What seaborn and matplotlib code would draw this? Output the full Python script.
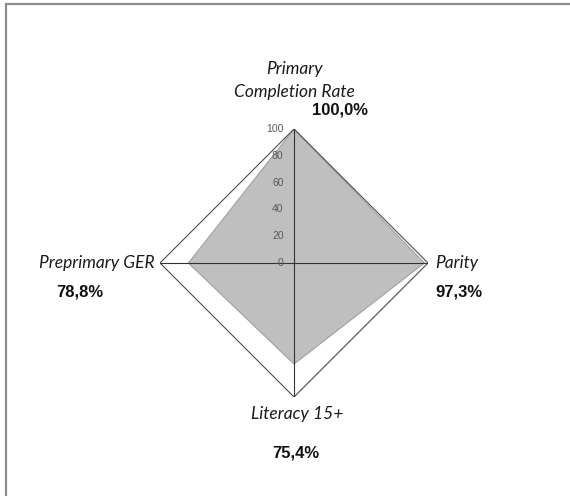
import numpy as np
import matplotlib
matplotlib.use("Agg")
import matplotlib.pyplot as plt
import seaborn as sns
from matplotlib.patches import Rectangle

# -----------------------------
# Data
# -----------------------------
indicators = ["Primary\nCompletion Rate", "Parity", "Literacy 15+", "Preprimary GER"]
values = [100.0, 97.3, 75.4, 78.8]
value_labels = ["100,0%", "97,3%", "75,4%", "78,8%"]
r_ticks = [0, 20, 40, 60, 80, 100]
r_max = 100

sns.set_theme(style="white")
plt.rcParams["font.family"] = ["Liberation Sans", "DejaVu Sans"]

fig = plt.figure(figsize=(5.70, 4.96), dpi=100)

# frame around the chart (cut off on the right / bottom like the original)
fig.patches.append(Rectangle((6 / 570, -0.05), 1.2, 1 - 4 / 496 + 0.05,
                             transform=fig.transFigure, fill=False,
                             edgecolor="#8c8c8c", linewidth=1.6))

cx, cy = 294 / 570, 1 - 263 / 496
rw, rh = 134 / 570, 134 / 496
ax = fig.add_axes([cx - rw, cy - rh, 2 * rw, 2 * rh], projection="polar")
ax.set_theta_zero_location("N")
ax.set_theta_direction(-1)
ax.set_ylim(0, r_max)
ax.grid(False)
ax.set_xticks([])
ax.set_yticks([])
ax.spines["polar"].set_visible(False)
ax.patch.set_alpha(0)

angles = np.deg2rad(np.arange(len(indicators)) * 360 / len(indicators))
# close the shape at 2*pi (same direction as 0) so nothing gets merged
closed_angles = np.append(angles, 2 * np.pi)

# filled series
closed_vals = np.append(values, values[0])
ax.fill(closed_angles, closed_vals, color="#bfbfbf", edgecolor="#a0a0a0",
        linewidth=0.8, zorder=2)

# outer gridline (diamond at 100)
sns.lineplot(x=closed_angles, y=[r_max] * len(closed_angles), sort=False,
             ax=ax, color="#4d4d4d", linewidth=0.8, zorder=3)

# axis lines through the centre
for a in angles:
    ax.plot([a, a], [0, r_max], color="#333333", linewidth=0.8, zorder=4)

# radial tick labels on the vertical axis
for t in r_ticks:
    ax.annotate(str(t), xy=(angles[0], t), xytext=(-7.5, 0),
                textcoords="offset points", ha="right", va="center",
                fontsize=7.5, color="#595959", zorder=5)

# category labels and values
name_style = dict(fontsize=12.5, style="italic", family=["Lato", "DejaVu Sans"],
                  color="#1a1a1a", annotation_clip=False)
value_style = dict(fontsize=12, fontweight="bold", color="#111111",
                   annotation_clip=False)

name_offsets = [(0, 21), (5, 0), (2, -12), (-4, 0)]
name_align = [("center", "bottom"), ("left", "center"),
              ("center", "center"), ("right", "center")]
value_offsets = [(33, 14), (5, -21), (1, -40), (-58, -21)]
value_align = ["center", "left", "center", "center"]

for i, a in enumerate(angles):
    ha, va = name_align[i]
    ax.annotate(indicators[i], xy=(a, r_max), xytext=name_offsets[i],
                textcoords="offset points", ha=ha, va=va,
                linespacing=1.5, **name_style)
    ax.annotate(value_labels[i], xy=(a, r_max), xytext=value_offsets[i],
                textcoords="offset points", ha=value_align[i], va="center",
                **value_style)

fig.savefig("out.png", dpi=100)
